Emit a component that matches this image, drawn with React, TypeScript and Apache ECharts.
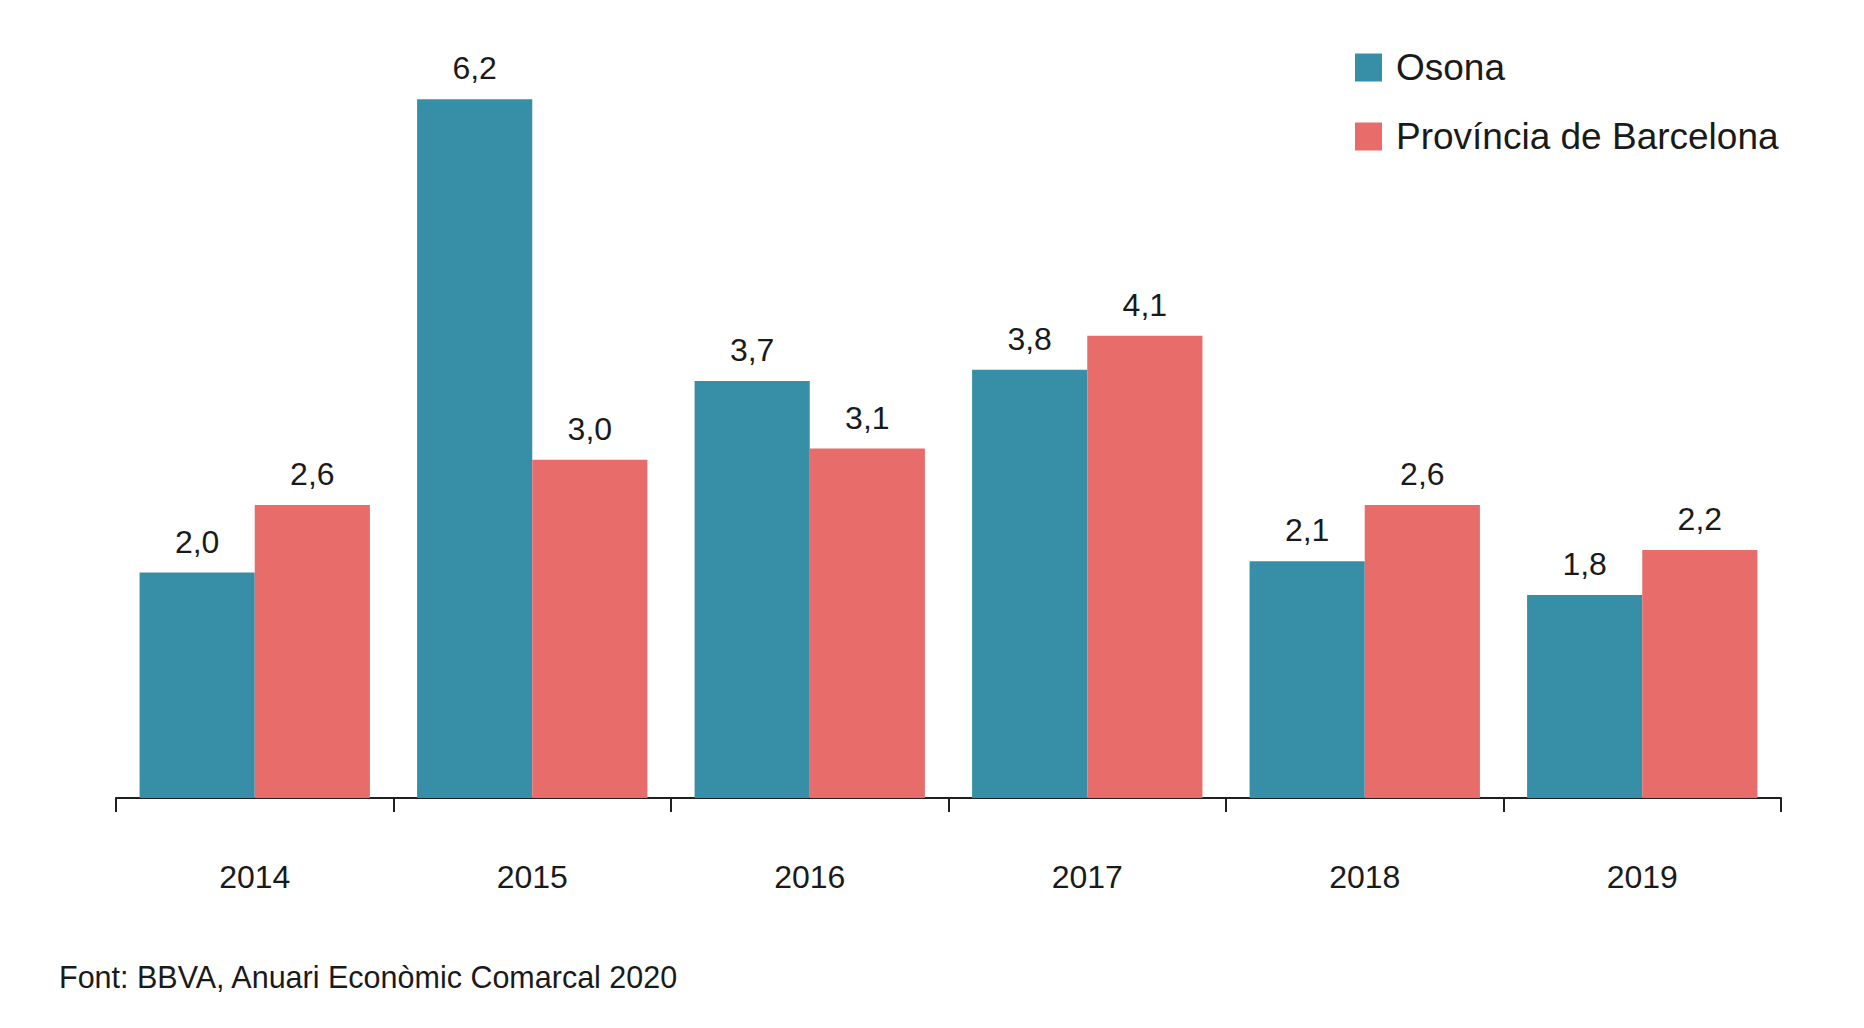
import React, { useEffect, useRef } from "react";
import * as echarts from "echarts";

const years = ["2014", "2015", "2016", "2017", "2018", "2019"];
const osona = [2.0, 6.2, 3.7, 3.8, 2.1, 1.8];
const barcelona = [2.6, 3.0, 3.1, 4.1, 2.6, 2.2];
const seriesNames = ["Osona", "Província de Barcelona"];
const sourceText = "Font: BBVA, Anuari Econòmic Comarcal 2020";

const FONT = "'Liberation Sans', Arial, Helvetica, sans-serif";
const TEXT_COLOR = "#1a1a1a";

const App = () => {
    const chartRef = useRef(null);

    useEffect(() => {
        document.body.style.margin = "0";
        if (!chartRef.current) return;
        const chart = echarts.init(chartRef.current, null, { renderer: "svg" });

        // etiqueta amb coma decimal
        const label = {
            show: true,
            position: "top",
            distance: 15,
            fontSize: 32,
            fontFamily: FONT,
            color: TEXT_COLOR,
            formatter: (p: any) => p.value.toFixed(1).replace(".", ","),
        };

        const option = {
            animation: false,
            textStyle: { fontFamily: FONT },
            grid: { left: 116, right: 83, top: 9, bottom: 230 },
            legend: {
                orient: "vertical",
                left: 1350,
                top: 44,
                itemWidth: 27,
                itemHeight: 28,
                itemGap: 32,
                icon: "rect",
                textStyle: {
                    fontSize: 37,
                    fontFamily: FONT,
                    color: TEXT_COLOR,
                    padding: [0, 0, 0, 9],
                },
                data: seriesNames,
            },
            xAxis: {
                type: "category",
                data: years,
                axisLine: { lineStyle: { color: "#231f20", width: 2 } },
                axisTick: {
                    show: true,
                    alignWithLabel: false,
                    interval: 0,
                    length: 14,
                    lineStyle: { color: "#231f20", width: 2 },
                },
                axisLabel: {
                    fontSize: 32,
                    fontFamily: FONT,
                    color: TEXT_COLOR,
                    margin: 63,
                },
            },
            yAxis: {
                type: "value",
                min: 0,
                max: 7,
                show: false,
                splitLine: { show: false },
            },
            graphic: [
                {
                    type: "text",
                    left: 59,
                    top: 961,
                    style: {
                        text: sourceText,
                        fontSize: 30.5,
                        fontFamily: FONT,
                        fill: TEXT_COLOR,
                    },
                },
            ],
            series: [
                {
                    name: seriesNames[0],
                    type: "bar",
                    data: osona,
                    barGap: "0%",
                    barCategoryGap: "17%",
                    itemStyle: { color: "#378ea7" },
                    label,
                },
                {
                    name: seriesNames[1],
                    type: "bar",
                    data: barcelona,
                    itemStyle: { color: "#e76c6a" },
                    label,
                },
            ],
        };

        chart.setOption(option);
        return () => chart.dispose();
    }, []);

    return <div ref={chartRef} style={{ width: "1864px", height: "1028px" }} />;
};

export default App;
